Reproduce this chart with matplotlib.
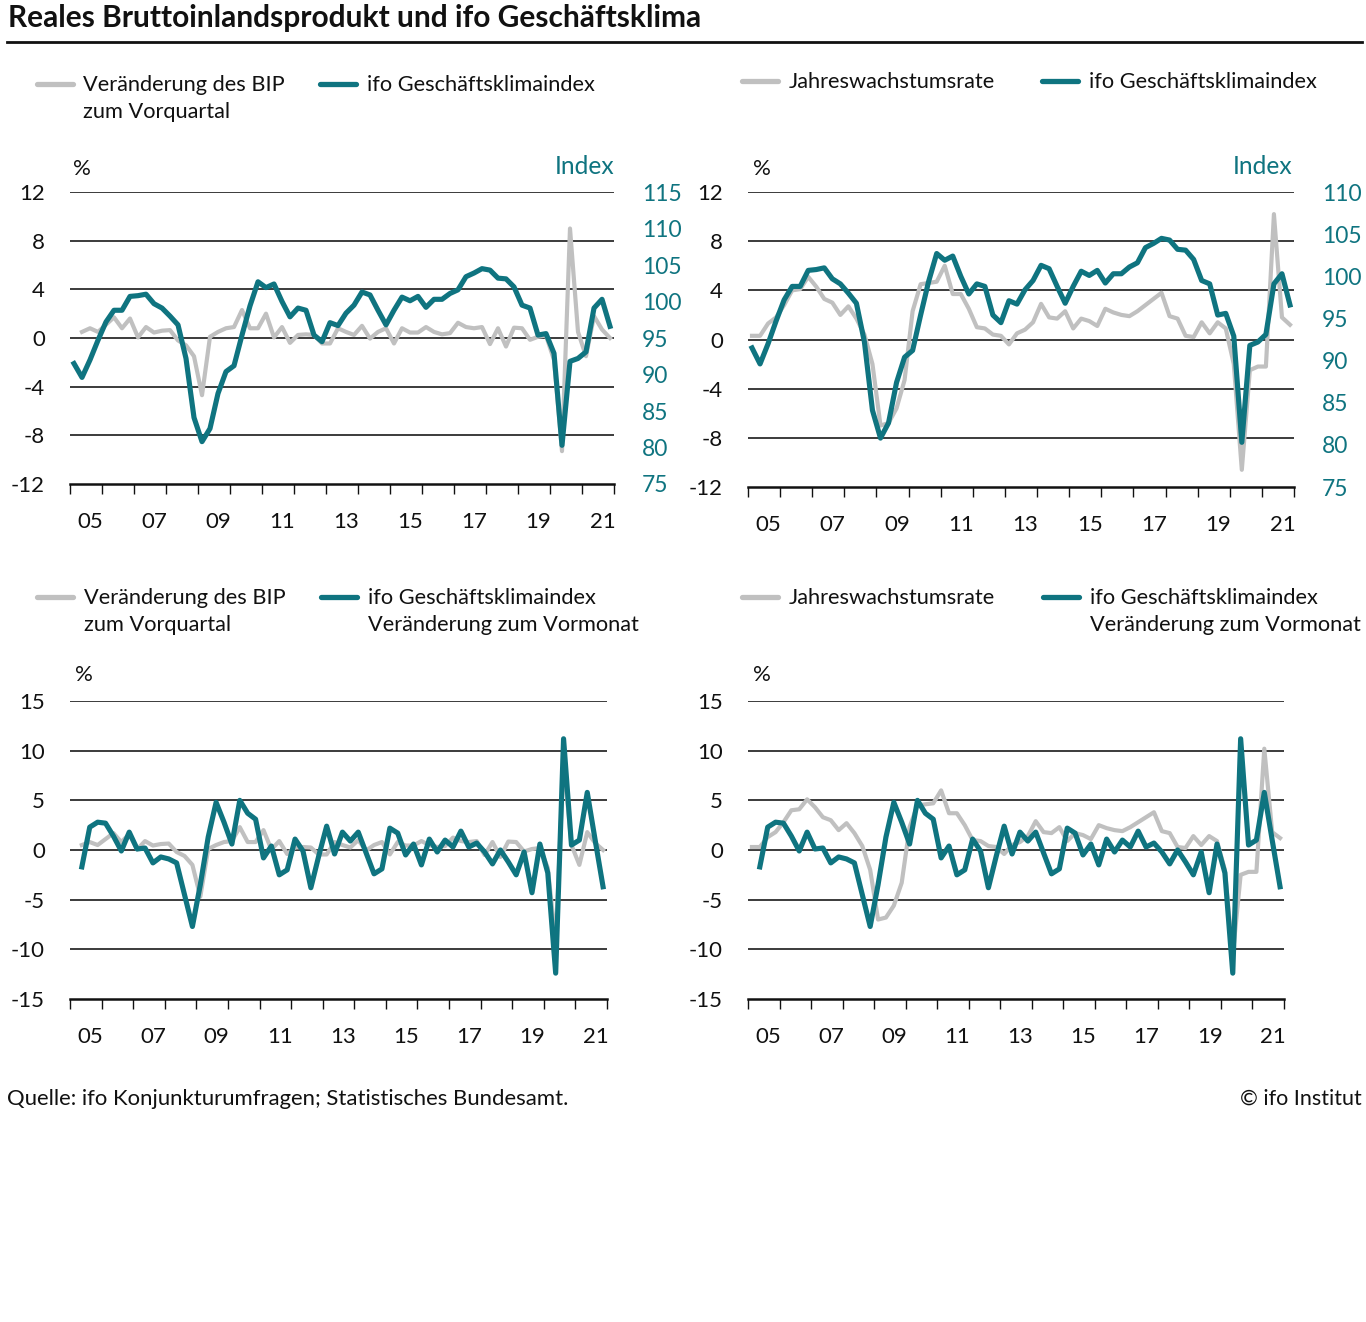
import matplotlib
matplotlib.use('Agg')
import matplotlib.pyplot as plt
from matplotlib.lines import Line2D
import numpy as np
import pandas as pd

W, H = 1366, 1322
TEAL = '#0f7480'
GRAY = '#c0c0c0'
plt.rcParams['font.family'] = ['Lato', 'DejaVu Sans']
plt.rcParams['axes.unicode_minus'] = False

# ---------------- data (quarterly) ----------------
quarters_all = pd.period_range('2005Q1', '2021Q4', freq='Q')
# ifo Geschäftsklimaindex (2005Q1 .. 2021Q4)
ifo_index = [91.5, 89.6, 92.0, 94.7,
             97.2, 98.8, 98.8, 100.7,
             100.8, 101.0, 99.7, 99.1,
             98.0, 96.8, 92.2, 84.1,
             80.8, 82.6, 87.4, 90.4,
             91.2, 95.4, 99.4, 102.7,
             101.9, 102.4, 100.0, 97.9,
             99.1, 98.8, 95.4, 94.5,
             97.1, 96.7, 98.4, 99.5,
             101.3, 100.9, 98.8, 96.8,
             98.8, 100.6, 100.1, 100.7,
             99.2, 100.3, 100.3, 101.1,
             101.6, 103.4, 103.9, 104.5,
             104.3, 103.2, 103.1, 102.0,
             99.5, 99.1, 95.4, 95.6,
             92.9, 80.3, 91.8, 92.2,
             93.1, 99.1, 100.3, 96.6]
# ifo Geschäftsklimaindex, Veränderung (2005Q2 .. 2021Q4)
ifo_change = [-1.7, 2.3, 2.8,
              2.7, 1.4, -0.1, 1.8,
              0.1, 0.2, -1.3, -0.7,
              -0.9, -1.3, -4.5, -7.7,
              -3.5, 1.3, 4.8, 2.8,
              0.6, 5.0, 3.7, 3.1,
              -0.8, 0.4, -2.5, -2.0,
              1.1, -0.1, -3.8, -0.6,
              2.4, -0.4, 1.8, 0.9,
              1.8, -0.3, -2.4, -1.9,
              2.2, 1.7, -0.5, 0.6,
              -1.5, 1.1, -0.2, 1.0,
              0.3, 1.9, 0.3, 0.7,
              -0.2, -1.4, 0.0, -1.2,
              -2.5, -0.2, -4.3, 0.6,
              -2.3, -12.4, 11.2, 0.5,
              1.0, 5.8, 1.0, -3.7]
# Veränderung des BIP zum Vorquartal (2005Q2 .. 2021Q4)
bip_qoq = [0.5, 0.8, 0.5,
           1.1, 1.7, 0.8, 1.6,
           0.05, 0.9, 0.45, 0.6,
           0.65, -0.2, -0.6, -1.5,
           -4.7, 0.1, 0.5, 0.8,
           0.9, 2.3, 0.8, 0.8,
           2.0, 0.05, 0.9, -0.4,
           0.25, 0.3, 0.25, -0.45,
           -0.45, 0.8, 0.5, 0.25,
           1.0, -0.05, 0.5, 0.8,
           -0.45, 0.8, 0.45, 0.45,
           0.9, 0.5, 0.3, 0.4,
           1.25, 0.9, 0.8, 0.9,
           -0.5, 0.8, -0.7, 0.85,
           0.8, -0.15, 0.1, 0.2,
           -1.8, -9.3, 9.0, 0.5,
           -1.5, 1.8, 0.7, 0.0]
# Jahreswachstumsrate BIP (2005Q1 .. 2021Q4)
bip_yoy = [0.3, 0.3, 1.3, 1.8,
           2.8, 4.0, 4.1, 5.1,
           4.3, 3.3, 3.0, 2.0,
           2.7, 1.7, 0.4, -2.0,
           -7.0, -6.8, -5.6, -3.3,
           2.3, 4.5, 4.6, 4.7,
           6.0, 3.7, 3.7, 2.5,
           1.0, 0.9, 0.4, 0.3,
           -0.4, 0.5, 0.8, 1.4,
           2.9, 1.8, 1.7, 2.3,
           0.9, 1.7, 1.5, 1.1,
           2.5, 2.2, 2.0, 1.9,
           2.3, 2.8, 3.3, 3.8,
           1.9, 1.7, 0.3, 0.2,
           1.4, 0.5, 1.4, 0.9,
           -2.0, -10.6, -2.5, -2.2,
           -2.2, 10.2, 1.8, 1.2]
year_labels = ['05', '07', '09', '11', '13', '15', '17', '19', '21']
label_years = [2005, 2007, 2009, 2011, 2013, 2015, 2017, 2019, 2021]


def qpos(periods):
    return np.array([p.year + (p.quarter - 0.5) / 4 for p in periods])


x_all = qpos(quarters_all)
x_from_q2 = qpos(quarters_all[1:])

fig = plt.figure(figsize=(W / 100, H / 100), dpi=100)


def rect(x0, x1, ytop, ybot):
    return [x0 / W, 1 - ybot / H, (x1 - x0) / W, (ybot - ytop) / H]


def setup(r, ylim, yticks):
    ax = fig.add_axes(r)
    ax.set_xlim(2005, 2022)
    ax.set_ylim(*ylim)
    ax.patch.set_alpha(0)
    for s in ['top', 'right', 'left']:
        ax.spines[s].set_visible(False)
    ax.spines['bottom'].set_linewidth(1.8)
    ax.spines['bottom'].set_color('#111111')
    for y in yticks[1:]:
        ax.axhline(y, color='#1a1a1a', lw=1.2, zorder=1)
    ax.set_yticks(yticks)
    ax.set_yticklabels([str(v) for v in yticks])
    ax.tick_params(axis='y', length=0, pad=18, labelsize=16, labelcolor='#111111')
    ax.set_xticks(range(2005, 2023))
    ax.tick_params(axis='x', which='major', length=7, width=1.0, color='#111111', labelbottom=False)
    ax.set_xticks([y + 0.64 for y in label_years], minor=True)
    ax.set_xticklabels(year_labels, minor=True)
    ax.tick_params(axis='x', which='minor', length=0, pad=20, labelsize=16, labelcolor='#111111')
    return ax


def twin(ax, ylim, ticks):
    a2 = ax.twinx()
    a2.set_ylim(*ylim)
    for s in a2.spines.values():
        s.set_visible(False)
    a2.set_yticks(ticks)
    a2.set_yticklabels([str(v) for v in ticks])
    a2.tick_params(axis='y', length=0, pad=20, labelsize=16.5, labelcolor=TEAL)
    return a2


LW_G = 3.0
LW_T = 3.7

# Panel 1
ax1 = setup(rect(70, 614, 192, 484), (-12, 12), [-12, -8, -4, 0, 4, 8, 12])
ax1.plot(x_from_q2, bip_qoq, color=GRAY, lw=LW_G, zorder=2)
ax1b = twin(ax1, (75, 115), [75, 80, 85, 90, 95, 100, 105, 110, 115])
ax1b.plot(x_all, ifo_index, color=TEAL, lw=LW_T, zorder=3)

# Panel 2
ax2 = setup(rect(748, 1294, 192, 487), (-12, 12), [-12, -8, -4, 0, 4, 8, 12])
ax2.plot(x_all, bip_yoy, color=GRAY, lw=LW_G, zorder=2)
ax2b = twin(ax2, (75, 110), [75, 80, 85, 90, 95, 100, 105, 110])
ax2b.plot(x_all, ifo_index, color=TEAL, lw=LW_T, zorder=3)

# Panel 3
ax3 = setup(rect(70, 607, 701, 999), (-15, 15), [-15, -10, -5, 0, 5, 10, 15])
ax3.plot(x_from_q2, bip_qoq, color=GRAY, lw=LW_G, zorder=2)
ax3.plot(x_from_q2, ifo_change, color=TEAL, lw=LW_T, zorder=3)

# Panel 4
ax4 = setup(rect(748, 1284, 701, 999), (-15, 15), [-15, -10, -5, 0, 5, 10, 15])
ax4.plot(x_all, bip_yoy, color=GRAY, lw=LW_G, zorder=2)
ax4.plot(x_from_q2, ifo_change, color=TEAL, lw=LW_T, zorder=3)


def ftext(x, y, s, **kw):
    kw.setdefault('fontsize', 15.7)
    kw.setdefault('color', '#111111')
    kw.setdefault('va', 'center')
    fig.text(x / W, 1 - y / H, s, **kw)


def legline(x0, x1, y, color):
    fig.add_artist(Line2D([x0 / W, x1 / W], [1 - y / H, 1 - y / H], color=color,
                          lw=3.8, solid_capstyle='round', transform=fig.transFigure))


# Title and rule
ftext(8, 18, 'Reales Bruttoinlandsprodukt und ifo Geschäftsklima', fontsize=21.5, fontweight='bold')
fig.add_artist(Line2D([7 / W, 1362 / W], [1 - 42 / H, 1 - 42 / H], color='#111111', lw=2.0,
                      transform=fig.transFigure))

# Legends
legline(37, 73, 84, GRAY)
ftext(83, 85, 'Veränderung des BIP')
ftext(83, 112, 'zum Vorquartal')
legline(320, 356, 84, TEAL)
ftext(367, 85, 'ifo Geschäftsklimaindex')

legline(742, 778, 81, GRAY)
ftext(789, 82, 'Jahreswachstumsrate')
legline(1042, 1078, 81, TEAL)
ftext(1089, 82, 'ifo Geschäftsklimaindex')

legline(37, 73, 597, GRAY)
ftext(84, 598, 'Veränderung des BIP')
ftext(84, 625, 'zum Vorquartal')
legline(321, 357, 597, TEAL)
ftext(368, 598, 'ifo Geschäftsklimaindex')
ftext(368, 625, 'Veränderung zum Vormonat')

legline(742, 778, 597, GRAY)
ftext(789, 598, 'Jahreswachstumsrate')
legline(1043, 1079, 597, TEAL)
ftext(1090, 598, 'ifo Geschäftsklimaindex')
ftext(1090, 625, 'Veränderung zum Vormonat')

# Unit labels
ftext(73, 169, '%', fontsize=16)
ftext(614, 167, 'Index', ha='right', color=TEAL, fontsize=17.7)
ftext(753, 169, '%', fontsize=16)
ftext(1292, 167, 'Index', ha='right', color=TEAL, fontsize=17.7)
ftext(75, 675, '%', fontsize=16)
ftext(753, 675, '%', fontsize=16)

# Footer
ftext(7, 1099, 'Quelle: ifo Konjunkturumfragen; Statistisches Bundesamt.', fontsize=15.9)
ftext(1362, 1099, '© ifo Institut', ha='right', fontsize=15.5)

fig.savefig('out.png', dpi=100)
